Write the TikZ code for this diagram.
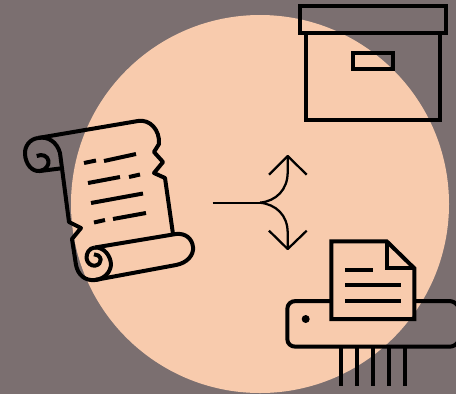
\documentclass[tikz,border=0pt]{standalone}
\definecolor{bgc}{HTML}{7B6F70}
\definecolor{disc}{HTML}{F8CBAD}
\begin{document}
\begin{tikzpicture}[x=0.75pt,y=-0.75pt,
 ink/.style={draw=black,line width=3pt,line join=round,fill=none},
 thin ink/.style={draw=black,line width=1.7pt,line join=round,fill=none},
 mitre ink/.style={draw=black,line width=3pt,line join=miter,fill=none}]
\useasboundingbox (0,0) rectangle (456,394);
\clip (0,0) rectangle (456,394);
\fill[bgc] (0,0) rectangle (456,394);
\fill[disc] (260,204) circle [radius=189];
% scroll
\draw[ink] (38,138) -- (138,121) .. controls (150,119) and (160,130) .. (159,144)
 -- (154,152) -- (163,162) -- (154,173) -- (165,178) -- (173,234);
\draw[ink] (38,138) .. controls (30,139) and (24.5,146) .. (25,154) .. controls (25.5,164) and (32,172) .. (40,171) -- (60,168.5);
\draw[ink] (40,171) .. controls (46,170) and (49,165) .. (48.5,161) .. controls (48,156) and (42,153.5) .. (36.7,156);
\draw[ink] (38,138) .. controls (48,136) and (57,142) .. (60,153) -- (69,222) -- (81,228) -- (72,239) -- (76,265)
 .. controls (78,275) and (85,281) .. (95,280) -- (176,265) .. controls (187,263) and (194,255) .. (193,247)
 .. controls (192,238) and (185,233) .. (176,234) -- (95,247.5);
\draw[ink] (95,247.5) .. controls (104,247) and (111,256) .. (111,265) .. controls (110,273) and (104,279) .. (95,280);
\draw[ink] (95,247.5) .. controls (89,248) and (86.5,253) .. (86.5,258) .. controls (87,263) and (91,266) .. (95,265.7)
 .. controls (99,265) and (101,262) .. (100.7,259.5) .. controls (100,256) and (97,254) .. (94,254.3);
\draw[ink] (84,163) -- (96,160.5);
\draw[ink] (104,161) -- (136,154);
\draw[ink] (88,183) -- (120,177);
\draw[ink] (129,177) -- (140,174.5);
\draw[ink] (91,203) -- (143,193.5);
\draw[ink] (94,222.5) -- (105,220);
\draw[ink] (113,219) -- (146,213);
% arrow
\coordinate (fork) at (260,202.7);
\coordinate (upTip) at (287.7,156);
\coordinate (downTip) at (287.7,249);
\draw[thin ink] (212.7,202.7) -- (fork);
\draw[thin ink] (fork) .. controls (276,201) and (287.7,190) .. (287.7,172) -- (upTip);
\draw[thin ink] (fork) .. controls (276,204.4) and (287.7,215) .. (287.7,233) -- (downTip);
\draw[thin ink] (269,174.7) -- (upTip) -- (306.7,174.7);
\draw[thin ink] (269,230.7) -- (downTip) -- (306.7,230.7);
% box
\draw[mitre ink] (299.7,5.7) rectangle (446.3,33.3);
\draw[mitre ink] (305.7,33.3) -- (305.7,120) -- (440.3,120) -- (440.3,33.3);
\draw[mitre ink] (353.3,53.3) rectangle (392.7,69);
% shredder
\draw[ink] (331.3,301) -- (296,301) .. controls (291,301) and (287.3,304) .. (287.3,309) -- (287.3,339)
 .. controls (287.3,344) and (291,346.7) .. (296,346.7) -- (449,346.7) .. controls (453,346.7) and (456,345) .. (458,342);
\draw[ink] (414.3,301) -- (449,301) .. controls (453,301) and (456,303) .. (458,306);
\fill[black] (305.7,319) circle [radius=4];
\draw[mitre ink] (331.3,241.3) -- (386.7,241.3) -- (414.3,268.3) -- (414.3,319) -- (331.3,319) -- cycle;
\draw[mitre ink] (386.7,241.3) -- (386.7,268.3) -- (414.3,268.3);
\draw[mitre ink] (345,270) -- (373,270);
\draw[mitre ink] (345,285.3) -- (401,285.3);
\draw[mitre ink] (345,301) -- (401,301);
\foreach \sx in {341.3,357,373,388.7,404.7}
  \draw[mitre ink] (\sx,346.7) -- (\sx,386);
\end{tikzpicture}
\end{document}
